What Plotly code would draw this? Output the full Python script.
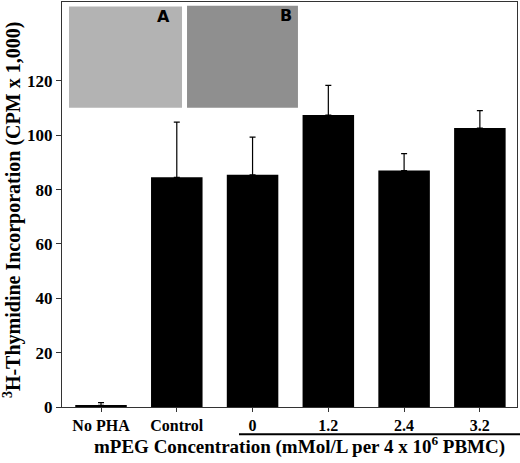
import plotly.graph_objects as go

# categories and values (CPM x 1,000)
categories = ["No PHA", "Control", "0", "1.2", "2.4", "3.2"]
means = [0.6, 84.5, 85.4, 107.4, 87.0, 102.6]
errors = [1.0, 20.3, 13.9, 10.9, 6.2, 6.4]
y_ticks = [0, 20, 40, 60, 80, 100, 120]

serif = "Liberation Serif, Times New Roman, serif"

fig = go.Figure(
    data=[
        go.Bar(
            x=list(range(len(categories))),
            y=means,
            width=0.68,
            marker=dict(color="black", line=dict(width=0)),
            error_y=dict(
                type="data",
                array=errors,
                arrayminus=[0] * len(errors),  # only the upper whisker shows
                symmetric=False,
                color="black",
                thickness=1.2,
                width=3,
            ),
        )
    ]
)

# micrograph insets (A, B) as plain grey panels
fig.add_shape(type="rect", xref="x", yref="y", x0=-0.422, x1=1.069, y0=110.1, y1=147.3,
              fillcolor="#b3b3b3", line=dict(width=0), layer="above")
fig.add_shape(type="rect", xref="x", yref="y", x0=1.135, x1=2.599, y0=110.1, y1=147.6,
              fillcolor="#8f8f8f", line=dict(width=0), layer="above")
fig.add_annotation(x=0.818, y=143.8, xref="x", yref="y", text="A", showarrow=False,
                   font=dict(family="DejaVu Sans", size=16, color="black", weight="bold"))
fig.add_annotation(x=2.44, y=143.9, xref="x", yref="y", text="B", showarrow=False,
                   font=dict(family="DejaVu Sans", size=16, color="black", weight="bold"))

# bracket under the mPEG groups
fig.add_shape(type="line", xref="paper", yref="paper", x0=0.389, x1=1.01, y0=-0.0675, y1=-0.0675,
              line=dict(color="black", width=2))

fig.add_annotation(
    x=0.521, y=-0.0946, xref="paper", yref="paper",
    text="mPEG Concentration (mMol/L per 4 x 10<sup>6</sup> PBMC)",
    showarrow=False, xanchor="center", yanchor="middle",
    font=dict(family=serif, size=19, color="black", weight="bold"),
)
fig.add_annotation(
    x=-0.11, y=0.486, xref="paper", yref="paper",
    text="<sup>3</sup>H-Thymidine Incorporation (CPM x 1,000)",
    textangle=-90, showarrow=False, xanchor="center", yanchor="middle",
    font=dict(family=serif, size=20, color="black", weight="bold"),
)

fig.update_layout(
    width=520,
    height=463,
    margin=dict(l=62, r=3, t=2, b=56),
    plot_bgcolor="white",
    paper_bgcolor="white",
    showlegend=False,
    font=dict(family=serif, color="black"),
)
fig.update_xaxes(
    range=[-0.515, 5.49],
    tickvals=list(range(len(categories))),
    ticktext=categories,
    tickfont=dict(family=serif, size=16, color="black", weight="bold"),
    ticks="outside",
    ticklen=4,
    tickcolor="#333",
    showline=True,
    linecolor="#333",
    linewidth=1,
    mirror=True,
    showgrid=False,
    zeroline=False,
)
fig.update_yaxes(
    range=[0, 149],
    tickvals=y_ticks,
    tickfont=dict(family=serif, size=17, color="black", weight="bold"),
    ticks="outside",
    ticklen=5,
    tickcolor="#333",
    showline=True,
    linecolor="#333",
    linewidth=1,
    mirror=True,
    showgrid=False,
    zeroline=False,
)

# drop the browser's default page margin so the figure sits at the corner
fig.write_html(
    "out.html",
    config={"displayModeBar": False},
    post_script="document.body.style.margin='0';",
)
